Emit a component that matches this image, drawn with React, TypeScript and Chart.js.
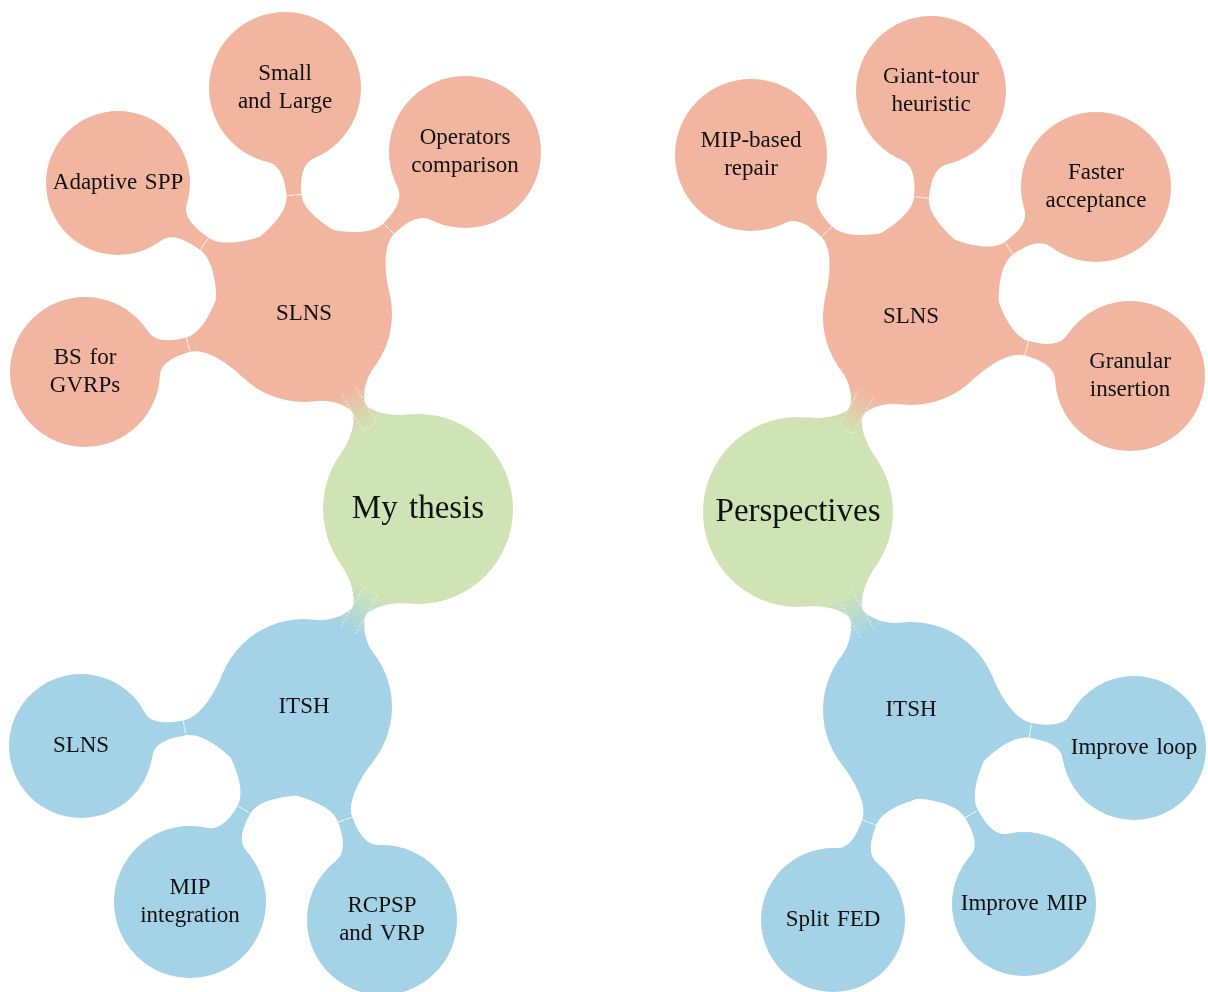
import React, { useEffect, useRef } from "react";
import { Chart, registerables } from "chart.js";

Chart.register(...registerables);

// ---- data ----
const nodeLabels = [
  "My thesis", "SLNS", "Small\nand Large", "Operators\ncomparison", "Adaptive SPP", "BS for\nGVRPs",
  "ITSH", "SLNS", "MIP\nintegration", "RCPSP\nand VRP",
  "Perspectives", "SLNS", "MIP-based\nrepair", "Giant-tour\nheuristic", "Faster\nacceptance", "Granular\ninsertion",
  "ITSH", "Improve loop", "Improve MIP", "Split FED",
];
const nodeX = [418, 304, 285, 465, 118, 85, 304, 81, 190, 382, 798, 911, 751, 931, 1096, 1130, 911, 1134, 1024, 833];
const nodeY = [509, 314, 88, 152, 183, 372, 707, 746, 902, 920, 512, 317, 155, 91, 187, 376, 710, 748, 904, 920];
const nodeR = [95, 88, 76, 76, 72, 75, 88, 72, 76, 75, 95, 88, 76, 75, 75, 75, 88, 72, 72, 72];
const nodeParent = [-1, 0, 1, 1, 1, 1, 0, 6, 6, 6, -1, 10, 11, 11, 11, 11, 10, 16, 16, 16];
const nodeGroup = ["root", "red", "red", "red", "red", "red", "blue", "blue", "blue", "blue",
  "root", "red", "red", "red", "red", "red", "blue", "blue", "blue", "blue"];

const groupColors: Record<string, string> = {
  root: "rgb(206,228,180)",
  red: "rgb(242,182,160)",
  blue: "rgb(164,210,230)",
};

const FONT = '"Liberation Serif", "Times New Roman", serif';

function drawConnector(
  ctx: CanvasRenderingContext2D,
  ax: number, ay: number, ra: number,
  bx: number, by: number, rb: number,
  fill: string | CanvasGradient,
  isRoot: boolean
) {
  const dx = bx - ax, dy = by - ay;
  const d = Math.hypot(dx, dy);
  const ux = dx / d, uy = dy / d;
  const nx = -uy, ny = ux;
  const g = d - ra - rb;
  const h = isRoot ? 8 : 7.5;
  const aA = ((isRoot ? 24 : 32) * Math.PI) / 180;
  const aB = ((isRoot ? 22 : 18) * Math.PI) / 180;
  const kA = isRoot ? 18 : 25;
  const kB = isRoot ? 14 : 15;
  const kN1 = isRoot ? 8 : 15;
  const kN2 = isRoot ? 8 : 12;
  const mx = ax + ux * (ra + g / 2), my = ay + uy * (ra + g / 2);

  const side = (s: number) => {
    const pa = [ax + ra * (ux * Math.cos(aA) + s * nx * Math.sin(aA)), ay + ra * (uy * Math.cos(aA) + s * ny * Math.sin(aA))];
    const ta = [ux * Math.sin(aA) - s * nx * Math.cos(aA), uy * Math.sin(aA) - s * ny * Math.cos(aA)];
    const pb = [bx + rb * (-ux * Math.cos(aB) + s * nx * Math.sin(aB)), by + rb * (-uy * Math.cos(aB) + s * ny * Math.sin(aB))];
    const tb = [-ux * Math.sin(aB) - s * nx * Math.cos(aB), -uy * Math.sin(aB) - s * ny * Math.cos(aB)];
    const nn = [mx + s * nx * h, my + s * ny * h];
    return {
      pa, pb, nn,
      c1: [pa[0] + ta[0] * kA, pa[1] + ta[1] * kA],
      c2: [nn[0] - ux * kN1, nn[1] - uy * kN1],
      c3: [nn[0] + ux * kN2, nn[1] + uy * kN2],
      c4: [pb[0] + tb[0] * kB, pb[1] + tb[1] * kB],
    };
  };
  const p = side(1), q = side(-1);
  ctx.beginPath();
  ctx.moveTo(ax, ay);
  ctx.lineTo(p.pa[0], p.pa[1]);
  ctx.bezierCurveTo(p.c1[0], p.c1[1], p.c2[0], p.c2[1], p.nn[0], p.nn[1]);
  ctx.bezierCurveTo(p.c3[0], p.c3[1], p.c4[0], p.c4[1], p.pb[0], p.pb[1]);
  ctx.lineTo(bx, by);
  ctx.lineTo(q.pb[0], q.pb[1]);
  ctx.bezierCurveTo(q.c4[0], q.c4[1], q.c3[0], q.c3[1], q.nn[0], q.nn[1]);
  ctx.bezierCurveTo(q.c2[0], q.c2[1], q.c1[0], q.c1[1], q.pa[0], q.pa[1]);
  ctx.closePath();
  ctx.fillStyle = fill;
  ctx.fill();

  if (isRoot) {
    const ex = ax + ux * ra, ey = ay + uy * ra;
    const fx = bx - ux * rb, fy = by - uy * rb;
    ctx.save();
    ctx.strokeStyle = "rgba(255,255,255,0.75)";
    ctx.lineWidth = 1;
    ctx.setLineDash([2, 2]);
    ctx.beginPath();
    ctx.moveTo(fx + nx * h, fy + ny * h);
    ctx.lineTo(ex + nx * h, ey + ny * h);
    ctx.lineTo(ex - nx * h, ey - ny * h);
    ctx.lineTo(fx - nx * h, fy - ny * h);
    ctx.stroke();
    ctx.restore();
  }
}

const connectorPlugin = {
  id: "mindmapConnectors",
  beforeDatasetsDraw(chart: any) {
    const ctx: CanvasRenderingContext2D = chart.ctx;
    const xs = chart.scales.x, ys = chart.scales.y;
    ctx.save();
    nodeParent.forEach((par, i) => {
      if (par < 0) return;
      const ax = xs.getPixelForValue(nodeX[par]), ay = ys.getPixelForValue(nodeY[par]);
      const bx = xs.getPixelForValue(nodeX[i]), by = ys.getPixelForValue(nodeY[i]);
      const ra = nodeR[par], rb = nodeR[i];
      const isRoot = nodeGroup[par] === "root";
      let fill: string | CanvasGradient = groupColors[nodeGroup[i]];
      if (isRoot) {
        const d = Math.hypot(bx - ax, by - ay);
        const ux = (bx - ax) / d, uy = (by - ay) / d;
        const gr = ctx.createLinearGradient(ax + ux * ra, ay + uy * ra, bx - ux * rb, by - uy * rb);
        gr.addColorStop(0, groupColors[nodeGroup[par]]);
        gr.addColorStop(1, groupColors[nodeGroup[i]]);
        fill = gr;
      }
      drawConnector(ctx, ax, ay, ra, bx, by, rb, fill, isRoot);
    });
    ctx.restore();
  },
  afterDatasetsDraw(chart: any) {
    const ctx: CanvasRenderingContext2D = chart.ctx;
    const xs = chart.scales.x, ys = chart.scales.y;
    ctx.save();
    nodeParent.forEach((par, i) => {
      if (par < 0 || nodeGroup[par] === "root") return;
      const ax = xs.getPixelForValue(nodeX[par]), ay = ys.getPixelForValue(nodeY[par]);
      const bx = xs.getPixelForValue(nodeX[i]), by = ys.getPixelForValue(nodeY[i]);
      const d = Math.hypot(bx - ax, by - ay);
      const ux = (bx - ax) / d, uy = (by - ay) / d;
      const nx = -uy, ny = ux;
      const g = d - nodeR[par] - nodeR[i];
      const mx = ax + ux * (nodeR[par] + g / 2), my = ay + uy * (nodeR[par] + g / 2);
      ctx.strokeStyle = "rgba(255,255,255,0.9)";
      ctx.lineWidth = 1;
      ctx.setLineDash([6, 1]);
      ctx.beginPath();
      ctx.moveTo(mx + nx * 7.5, my + ny * 7.5);
      ctx.lineTo(mx - nx * 7.5, my - ny * 7.5);
      ctx.stroke();
    });
    ctx.setLineDash([]);
    ctx.fillStyle = "#111111";
    ctx.textAlign = "center";
    ctx.textBaseline = "middle";
    nodeLabels.forEach((lab, i) => {
      const x = xs.getPixelForValue(nodeX[i]);
      const y = ys.getPixelForValue(nodeY[i]);
      const isRoot = nodeGroup[i] === "root";
      const size = isRoot ? 33 : 23;
      const lh = isRoot ? 38 : 28;
      ctx.font = `${size}px ${FONT}`;
      try { (ctx as any).wordSpacing = isRoot ? "3px" : "2px"; } catch (e) {}
      const lines = lab.split("\n");
      lines.forEach((ln, k) => {
        const yy = y + (k - (lines.length - 1) / 2) * lh;
        ctx.fillText(ln, x, yy);
      });
    });
    ctx.restore();
  },
};

export default function App() {
  const ref = useRef<HTMLCanvasElement | null>(null);
  useEffect(() => {
    document.body.style.margin = "0";
    if (!ref.current) return;
    const chart = new Chart(ref.current, {
      type: "bubble",
      data: {
        datasets: [
          {
            data: nodeX.map((x, i) => ({ x, y: nodeY[i], r: nodeR[i] })),
            backgroundColor: nodeGroup.map((g) => groupColors[g]),
            borderWidth: 0,
            radius: 0,
            hoverRadius: 0,
            clip: false as any,
          },
        ],
      },
      options: {
        animation: false,
        responsive: true,
        maintainAspectRatio: false,
        events: [],
        layout: { padding: 0, autoPadding: false } as any,
        plugins: { legend: { display: false }, tooltip: { enabled: false } },
        scales: {
          x: { type: "linear", min: 0, max: 1208, display: false },
          y: { type: "linear", min: 0, max: 992, reverse: true, display: false },
        },
      },
      plugins: [connectorPlugin],
    });
    return () => chart.destroy();
  }, []);
  return (
    <div style={{ width: 1208, height: 992, position: "relative", background: "#fff" }}>
      <canvas ref={ref} />
    </div>
  );
}
